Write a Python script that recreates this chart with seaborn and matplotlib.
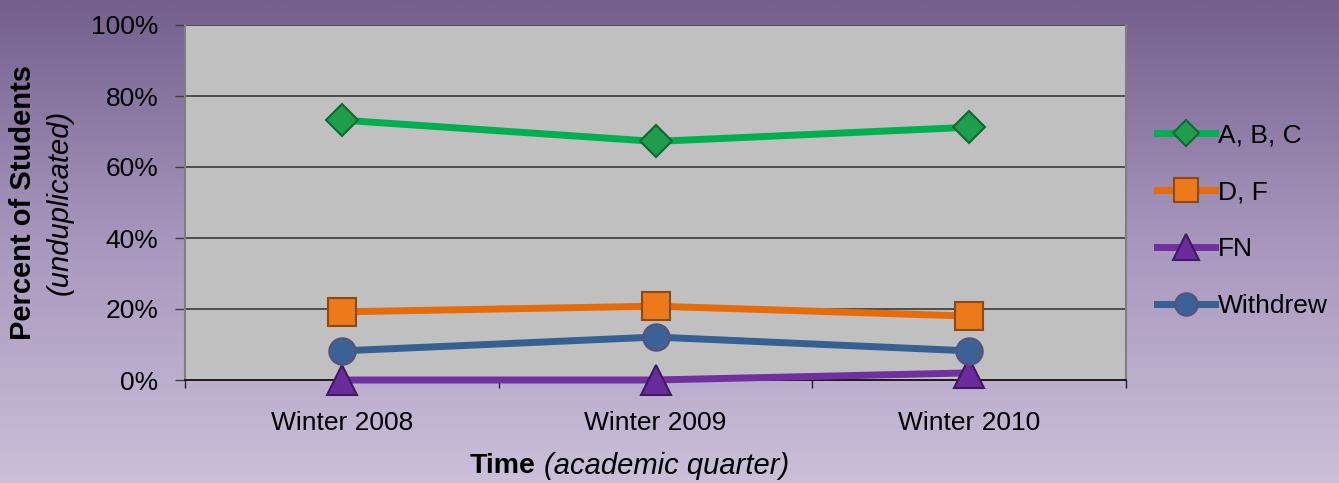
import numpy as np
import pandas as pd
import matplotlib
matplotlib.use("Agg")
import matplotlib.pyplot as plt
import seaborn as sns
from matplotlib.lines import Line2D
from matplotlib.colors import LinearSegmentedColormap

# ---- data ----
quarters = ["Winter 2008", "Winter 2009", "Winter 2010"]
abc = [73.2, 67.2, 71.2]
d_f = [19.2, 20.8, 18.0]
fn = [0.0, 0.0, 2.0]
withdrew = [8.2, 12.1, 8.2]
series_names = ["A, B, C", "D, F", "FN", "Withdrew"]
y_ticks = [0, 20, 40, 60, 80, 100]
y_tick_labels = ["0%", "20%", "40%", "60%", "80%", "100%"]

series_values = {"A, B, C": abc, "D, F": d_f, "FN": fn, "Withdrew": withdrew}

# ---- styles ----
line_colors = {"A, B, C": "#00b050", "D, F": "#e46c0a", "FN": "#7030a0", "Withdrew": "#366092"}
face_colors = {"A, B, C": "#1e9e4c", "D, F": "#ec7a1a", "FN": "#6a2c9c", "Withdrew": "#3b6297"}
edge_colors = {"A, B, C": "#0b6a2e", "D, F": "#8c4a12", "FN": "#3e1a60", "Withdrew": "#5c5079"}
markers = {"A, B, C": "D", "D, F": "s", "FN": "^", "Withdrew": "o"}
msizes = {"A, B, C": 16, "D, F": 20, "FN": 22, "Withdrew": 19}

plt.rcParams["font.family"] = ["Liberation Sans", "DejaVu Sans"]

W, H = 1339, 483
fig = plt.figure(figsize=(W / 100, H / 100), dpi=100)

# gradient background
bg = fig.add_axes([0, 0, 1, 1], zorder=-10)
cmap = LinearSegmentedColormap.from_list("bg", ["#745f8d", "#a797bd", "#cbbfd9"])
grad = np.linspace(0, 1, 256).reshape(-1, 1)
bg.imshow(grad, aspect="auto", cmap=cmap, extent=[0, 1, 0, 1], origin="upper")
bg.axis("off")

ax = fig.add_axes([185 / W, 1 - 380 / H, (1126 - 185) / W, (380 - 25) / H])
ax.set_facecolor("#c0c0c0")

records = []
for name in series_names:
    for q, v in zip(quarters, series_values[name]):
        records.append({"Quarter": q, "Series": name, "Value": v})
data = pd.DataFrame(records)
data["pos"] = data["Quarter"].map({q: i for i, q in enumerate(quarters)})

for i, name in enumerate(series_names):
    sub = data[data["Series"] == name]
    sns.lineplot(data=sub, x="pos", y="Value", ax=ax, color=line_colors[name],
                 linewidth=5, marker=markers[name], markersize=msizes[name],
                 markerfacecolor=face_colors[name], markeredgecolor=edge_colors[name],
                 markeredgewidth=1.5, clip_on=False, zorder=3 + i, legend=False)

ax.set_xlim(-0.5, 2.5)
ax.set_ylim(0, 100)
ax.set_yticks(y_ticks)
ax.set_yticklabels(y_tick_labels)
ax.set_xticks(range(len(quarters)))
ax.set_xticklabels(quarters)
ax.set_xticks([-0.5, 0.5, 1.5, 2.5], minor=True)
ax.tick_params(axis="x", which="major", length=0, pad=22, labelsize=19)
ax.tick_params(axis="x", which="minor", length=6, width=1, color="#202020")
ax.tick_params(axis="y", which="major", length=7, width=1, color="#404040", pad=12, labelsize=19)
ax.set_xlabel("")
ax.set_ylabel("")

for y in y_ticks[1:]:
    ax.axhline(y, color="#3a3a3a", lw=1.2, zorder=1)
ax.spines["top"].set_visible(False)
ax.spines["left"].set_color("#7f7f7f")
ax.spines["left"].set_linewidth(1.5)
ax.spines["right"].set_color("#7f7f7f")
ax.spines["right"].set_linewidth(1.5)
ax.spines["bottom"].set_color("#000000")
ax.spines["bottom"].set_linewidth(1.2)

# axis titles
yc = 1 - 202 / H
fig.text(23 / W, yc, "Percent of Students", rotation=90, ha="center", va="center",
         fontsize=21, fontweight="bold")
fig.text(60 / W, yc, "(unduplicated)", rotation=90, ha="center", va="center",
         fontsize=21, fontstyle="italic")
fig.text(536 / W, 1 - 466 / H, "Time", ha="right", va="center", fontsize=20.5, fontweight="bold")
fig.text(544 / W, 1 - 466 / H, "(academic quarter)", ha="left", va="center", fontsize=21,
         fontstyle="italic")

# legend
handles = [Line2D([0], [0], color=line_colors[n], lw=5, marker=markers[n],
                  markersize=msizes[n] * 0.85, markerfacecolor=face_colors[n],
                  markeredgecolor=edge_colors[n], markeredgewidth=1.5) for n in series_names]
fig.legend(handles, series_names, loc="center left", bbox_to_anchor=(1157 / W, 1 - 221 / H),
           frameon=False, fontsize=19, handlelength=2.2, handletextpad=0.1,
           labelspacing=1.25, borderpad=0, borderaxespad=0)

fig.savefig("out.png", dpi=100)
